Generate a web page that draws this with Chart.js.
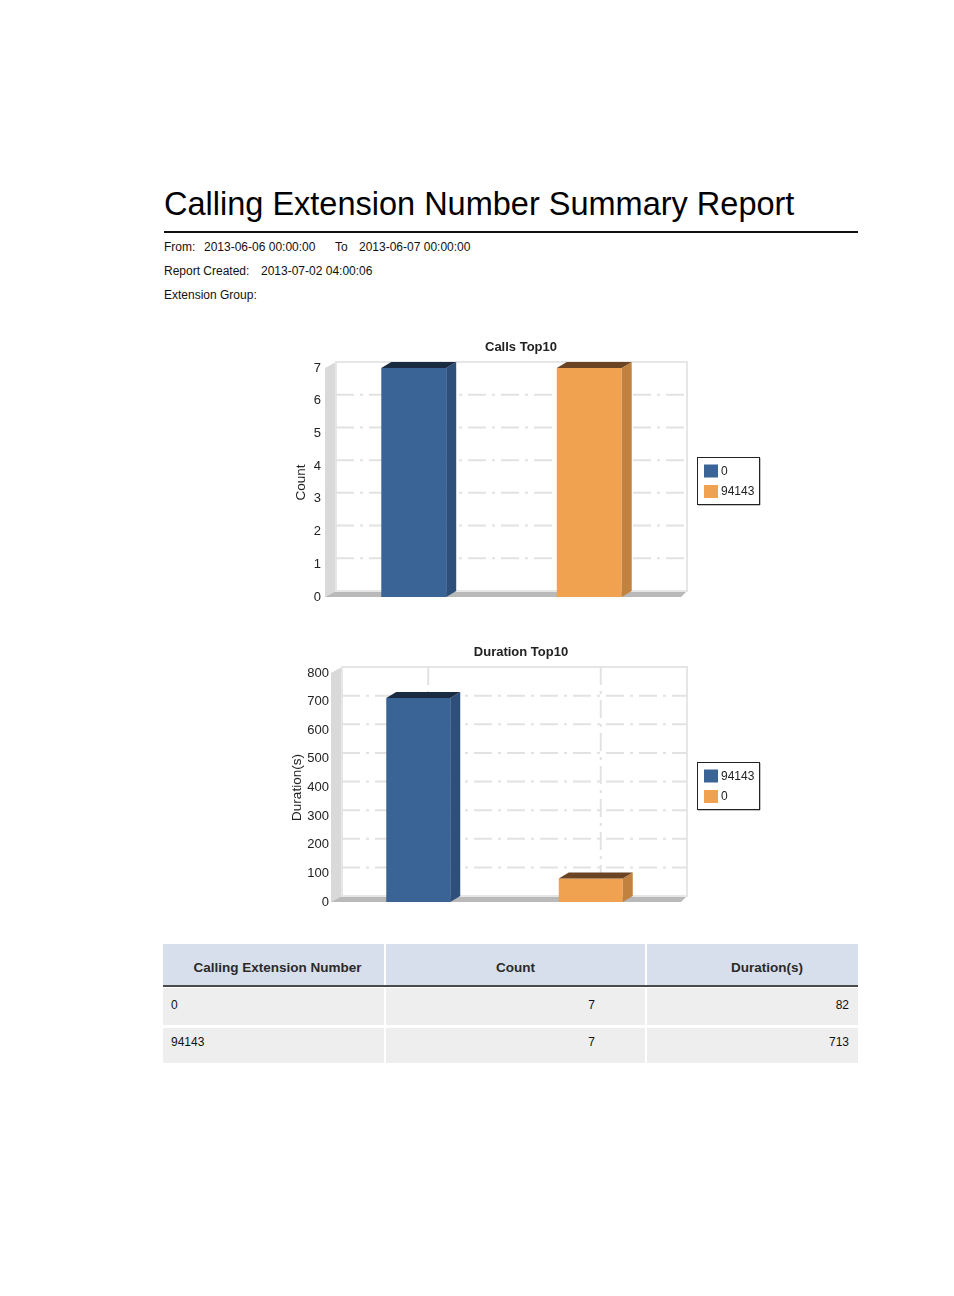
<!DOCTYPE html>
<html>
<head>
<meta charset="utf-8">
<script src="https://cdn.jsdelivr.net/npm/chart.js@4.4.0/dist/chart.umd.min.js"></script>
<style>
body { margin: 0; background: #fff; font-family: "Liberation Sans", Arial, sans-serif; color: #111; }
#page { position: relative; width: 954px; height: 1296px; overflow: hidden; }
.abs { position: absolute; white-space: nowrap; }
.info { font-size: 12px; line-height: 14px; color: #111; }
.cell { position: absolute; box-sizing: border-box; font-size: 12px; color: #111; }
.hcell { position: absolute; box-sizing: border-box; background: #d8dfec; font-size: 13.5px; font-weight: bold; color: #2a2a2a; text-align: center; line-height: 14px; padding-top: 17px; }
canvas { position: absolute; }
</style>
</head>
<body>
<div id="page">
  <div class="abs" style="left:164px;top:188px;font-size:32.5px;line-height:32.5px;color:#000;">Calling Extension Number Summary Report</div>
  <div class="abs" style="left:164px;top:231px;width:694px;height:2px;background:#111;"></div>

  <div class="abs info" style="left:164px;top:240px;">From:</div>
  <div class="abs info" style="left:204px;top:240px;">2013-06-06 00:00:00</div>
  <div class="abs info" style="left:335px;top:240px;">To</div>
  <div class="abs info" style="left:359px;top:240px;">2013-06-07 00:00:00</div>
  <div class="abs info" style="left:164px;top:264px;">Report Created:</div>
  <div class="abs info" style="left:261px;top:264px;">2013-07-02 04:00:06</div>
  <div class="abs info" style="left:164px;top:288px;">Extension Group:</div>

  <canvas id="callsChart" width="490" height="275" style="left:276px;top:336px;"></canvas>
  <canvas id="durationChart" width="490" height="275" style="left:276px;top:641px;"></canvas>

  <div id="table"></div>
</div>

<script>
// Calls Top10
const callsLabels = ['0', '94143'];
const callsValues = [7, 7];
const callsTicks = [0, 1, 2, 3, 4, 5, 6, 7];

// Duration Top10
const durationLabels = ['94143', '0'];
const durationValues = [713, 82];
const durationTicks = [0, 100, 200, 300, 400, 500, 600, 700, 800];

// summary table
const tableHeaders = ['Calling Extension Number', 'Count', 'Duration(s)'];
const tableExt = ['0', '94143'];
const tableCount = [7, 7];
const tableDuration = [82, 713];

const seriesColors = ['#3b6496', '#f0a250'];
const sideColors = ['#2d4f79', '#c2823f'];
const topColors = ['#1a2b42', '#6b4424'];

// 3d depth of the plot box
const DX = 10, DY = -6;
const FONT = '"Liberation Sans", Arial, sans-serif';

const box3d = {
    id: 'box3d',
    // walls and grid go under the axis labels
    beforeDraw(chart, args, opts) {
        const { ctx, chartArea: a, scales: { y } } = chart;
        ctx.save();
        // left wall
        ctx.fillStyle = '#d9d9d9';
        ctx.beginPath();
        ctx.moveTo(a.left - 1, a.bottom);
        ctx.lineTo(a.left - 1, a.top);
        ctx.lineTo(a.left + DX, a.top + DY);
        ctx.lineTo(a.left + DX, a.bottom + DY);
        ctx.closePath();
        ctx.fill();
        // floor
        ctx.fillStyle = '#b9b9b9';
        ctx.beginPath();
        ctx.moveTo(a.left - 1, a.bottom);
        ctx.lineTo(a.left + DX, a.bottom + DY);
        ctx.lineTo(a.right + DX, a.bottom + DY);
        ctx.lineTo(a.right + 4, a.bottom);
        ctx.closePath();
        ctx.fill();
        // back wall outline
        ctx.strokeStyle = '#e6e6e6';
        ctx.lineWidth = 2;
        ctx.strokeRect(a.left + DX, a.top + DY, a.width, a.height);
        // dashed grid on the back wall
        ctx.setLineDash([18, 6, 3, 6]);
        ctx.strokeStyle = '#e2e2e2';
        ctx.lineWidth = 2;
        y.ticks.forEach(t => {
            if (t.value === y.min || t.value === y.max) return;
            const py = y.getPixelForValue(t.value) + DY;
            ctx.beginPath();
            ctx.moveTo(a.left + DX, py);
            ctx.lineTo(a.right + DX, py);
            ctx.stroke();
        });
        if (opts.vertical) {
            chart.data.datasets.forEach((d, i) => {
                chart.getDatasetMeta(i).data.forEach(bar => {
                    ctx.beginPath();
                    ctx.moveTo(bar.x + DX, a.top + DY);
                    ctx.lineTo(bar.x + DX, a.bottom + DY);
                    ctx.stroke();
                });
            });
        }
        ctx.restore();
    },
    afterDatasetsDraw(chart) {
        const ctx = chart.ctx;
        ctx.save();
        chart.data.datasets.forEach((d, i) => {
            chart.getDatasetMeta(i).data.forEach(bar => {
                const { x, y, base, width } = bar.getProps(['x', 'y', 'base', 'width'], true);
                const l = x - width / 2, r = x + width / 2;
                ctx.fillStyle = d.sideColor;
                ctx.beginPath();
                ctx.moveTo(r, y);
                ctx.lineTo(r + DX, y + DY);
                ctx.lineTo(r + DX, base + DY);
                ctx.lineTo(r, base);
                ctx.closePath();
                ctx.fill();
                ctx.fillStyle = d.topColor;
                ctx.beginPath();
                ctx.moveTo(l, y);
                ctx.lineTo(l + DX, y + DY);
                ctx.lineTo(r + DX, y + DY);
                ctx.lineTo(r, y);
                ctx.closePath();
                ctx.fill();
            });
        });
        ctx.restore();
    }
};

// boxed legend right of the plot
const boxLegend = {
    id: 'boxLegend',
    afterDraw(chart) {
        const { ctx, chartArea: a } = chart;
        const sets = chart.data.datasets;
        ctx.save();
        ctx.font = '12px ' + FONT;
        const tw = Math.max(...sets.map(d => ctx.measureText(d.label).width));
        const rowH = 20.5;
        const w = Math.round(7 + 14 + 3 + tw + 5);
        const h = 47;
        const left = Math.round(a.right + 20);
        const top = Math.round((a.top + a.bottom) / 2 - h / 2 - 2);
        ctx.fillStyle = '#888';
        ctx.fillRect(left + 1, top + h, w, 1.5);
        ctx.fillRect(left + w, top + 1, 1.5, h);
        ctx.strokeStyle = '#222';
        ctx.lineWidth = 1;
        ctx.strokeRect(left + 0.5, top + 0.5, w, h);
        sets.forEach((d, i) => {
            const cy = top + 14 + rowH * i;
            ctx.fillStyle = d.backgroundColor;
            ctx.fillRect(left + 7, cy - 6.5, 14, 13);
            ctx.fillStyle = '#222';
            ctx.textBaseline = 'middle';
            ctx.fillText(d.label, left + 24, cy + 0.5);
        });
        ctx.restore();
    }
};

function makeChart(id, title, labels, values, ticks, axisTitle, o) {
    return new Chart(document.getElementById(id), {
        type: 'bar',
        data: {
            labels: [''],
            datasets: labels.map((lab, i) => ({
                label: lab,
                data: [values[i]],
                backgroundColor: seriesColors[i],
                sideColor: sideColors[i],
                topColor: topColors[i],
                categoryPercentage: 1.0,
                barPercentage: o.barPct
            }))
        },
        options: {
            responsive: false,
            animation: false,
            layout: { padding: 0 },
            scales: {
                x: {
                    display: true,
                    grid: { display: false },
                    border: { display: false },
                    ticks: { display: false },
                    afterFit: s => { s.height = 14; }
                },
                y: {
                    min: ticks[0],
                    max: ticks[ticks.length - 1],
                    afterBuildTicks: s => { s.ticks = ticks.map(v => ({ value: v })); },
                    afterFit: s => { s.width = o.axisW; },
                    grid: { display: false, drawTicks: false },
                    border: { display: false },
                    ticks: {
                        padding: o.tickPad,
                        color: '#222',
                        font: { family: FONT, size: 13 }
                    },
                    title: {
                        display: true,
                        text: axisTitle,
                        color: '#222',
                        padding: { top: o.titlePad, bottom: 0 },
                        font: { family: FONT, size: 13.5 }
                    }
                },
                // empty right axis, leaves room for the boxed legend
                y2: {
                    position: 'right',
                    display: true,
                    grid: { display: false },
                    border: { display: false },
                    ticks: { display: false },
                    afterFit: s => { s.width = 89; }
                }
            },
            plugins: {
                legend: { display: false },
                tooltip: { enabled: false },
                title: {
                    display: true,
                    text: title,
                    color: '#222',
                    padding: { top: 3.2, bottom: 13.2 },
                    font: { family: FONT, size: 13, weight: 'bold' }
                },
                box3d: { vertical: o.vertical }
            }
        },
        plugins: [box3d, boxLegend]
    });
}

makeChart('callsChart', 'Calls Top10', callsLabels, callsValues, callsTicks, 'Count',
    { axisW: 50, barPct: 0.37, tickPad: 5, titlePad: 17, vertical: false });
makeChart('durationChart', 'Duration Top10', durationLabels, durationValues, durationTicks, 'Duration(s)',
    { axisW: 56, barPct: 0.371, tickPad: 3, titlePad: 13, vertical: true });

// table
const cols = [[163, 384], [386, 645], [647, 858]];
const headPad = [8, 0, 29];
const table = document.getElementById('table');
tableHeaders.forEach((h, c) => {
    const d = document.createElement('div');
    d.className = 'hcell';
    d.style.cssText = `left:${cols[c][0]}px;top:944px;width:${cols[c][1] - cols[c][0]}px;height:42px;padding-left:${headPad[c]}px;`;
    d.textContent = h;
    table.appendChild(d);
});
const rule = document.createElement('div');
rule.className = 'abs';
rule.style.cssText = 'left:163px;top:985px;width:695px;height:2px;background:#4a4a4a;';
table.appendChild(rule);
const rowTops = [988, 1028], rowHs = [37, 35];
tableExt.forEach((ext, r) => {
    const vals = [ext, tableCount[r], tableDuration[r]];
    vals.forEach((v, c) => {
        const d = document.createElement('div');
        d.className = 'cell';
        d.style.cssText = `left:${cols[c][0]}px;top:${rowTops[r]}px;width:${cols[c][1] - cols[c][0]}px;height:${rowHs[r]}px;` +
            `background:#eeeeee;line-height:14px;padding-top:${r === 0 ? 10 : 7}px;` +
            (c === 0 ? 'padding-left:8px;text-align:left;' : 'padding-right:' + (c === 1 ? 50 : 9) + 'px;text-align:right;');
        d.textContent = v;
        table.appendChild(d);
    });
});
</script>
</body>
</html>
